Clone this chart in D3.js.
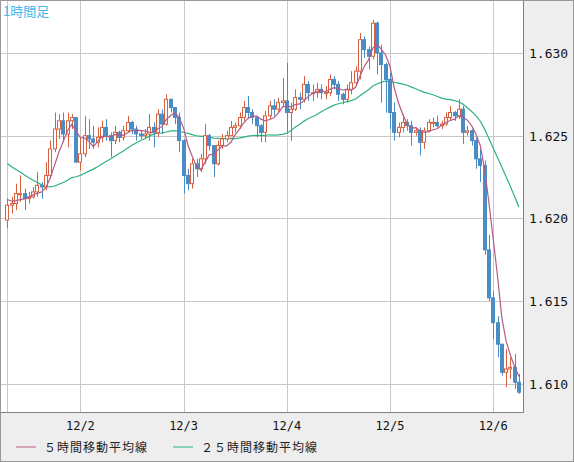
<!DOCTYPE html>
<html><head><meta charset="utf-8">
<script src="https://cdn.jsdelivr.net/npm/d3@7"></script>
<style>body{margin:0;background:#eee;}svg{display:block;}</style>
</head><body><div id="chart"></div>
<script>
// hourly candles, 12/1 07:00 .. 12/6 06:00
var closes = [1.6208,1.6209,1.6215,1.6215,1.6212,1.6213,1.6216,1.6220,1.6219,1.6226,
  1.6242,1.6254,1.6259,1.6251,1.6259,1.6261,1.6234,1.6239,1.6250,1.6248,
  1.6246,1.6249,1.6255,1.6250,1.6247,1.6252,1.6249,1.6253,1.6258,1.6254,
  1.6251,1.6250,1.6251,1.6255,1.6252,1.6263,1.6257,1.6272,1.6267,1.6261,
  1.6247,1.6226,1.6221,1.6233,1.6230,1.6236,1.6250,1.6244,1.6233,1.6244,
  1.6248,1.6250,1.6255,1.6256,1.6261,1.6267,1.6264,1.6261,1.6256,1.6252,
  1.6262,1.6268,1.6266,1.6270,1.6271,1.6264,1.6266,1.6273,1.6272,1.6281,
  1.6276,1.6276,1.6278,1.6276,1.6276,1.6284,1.6281,1.6275,1.6272,1.6278,
  1.6282,1.6289,1.6308,1.6302,1.6298,1.6318,1.6300,1.6293,1.6284,1.6264,
  1.6252,1.6255,1.6258,1.6256,1.6252,1.6253,1.6246,1.6253,1.6258,1.6258,
  1.6256,1.6257,1.6261,1.6264,1.6262,1.6266,1.6252,1.6253,1.6247,1.6236,
  1.6232,1.6181,1.6152,1.6137,1.6124,1.6107,1.6109,1.6110,1.6101,1.6095];
var highs = [1.6212,1.6213,1.6221,1.6226,1.6218,1.6216,1.6219,1.6228,1.6222,1.6234,
  1.6247,1.6264,1.6263,1.6264,1.6264,1.6263,1.6259,1.6249,1.6262,1.6260,
  1.6256,1.6255,1.6259,1.6260,1.6252,1.6256,1.6253,1.6256,1.6262,1.6259,
  1.6256,1.6253,1.6254,1.6263,1.6258,1.6266,1.6266,1.6275,1.6272,1.6265,
  1.6264,1.6248,1.6230,1.6236,1.6236,1.6239,1.6257,1.6251,1.6244,1.6247,
  1.6251,1.6253,1.6259,1.6258,1.6264,1.6271,1.6274,1.6266,1.6262,1.6257,
  1.6265,1.6271,1.6272,1.6273,1.6285,1.6294,1.6270,1.6278,1.6276,1.6286,
  1.6283,1.6281,1.6282,1.6281,1.6280,1.6287,1.6286,1.6283,1.6276,1.6281,
  1.6289,1.6292,1.6312,1.6310,1.6304,1.6320,1.6319,1.6305,1.6294,1.6288,
  1.6270,1.6258,1.6263,1.6260,1.6259,1.6255,1.6255,1.6255,1.6260,1.6261,
  1.6262,1.6259,1.6264,1.6268,1.6265,1.6272,1.6268,1.6256,1.6254,1.6249,
  1.6242,1.6235,1.6190,1.6156,1.6141,1.6124,1.6121,1.6116,1.6118,1.6106];
var lows = [1.6194,1.6203,1.6205,1.6210,1.6205,1.6209,1.6212,1.6213,1.6212,1.6217,
  1.6224,1.6240,1.6248,1.6246,1.6243,1.6254,1.6234,1.6229,1.6237,1.6242,
  1.6242,1.6243,1.6246,1.6247,1.6237,1.6245,1.6246,1.6247,1.6252,1.6251,
  1.6247,1.6248,1.6248,1.6247,1.6243,1.6249,1.6251,1.6256,1.6264,1.6257,
  1.6240,1.6215,1.6217,1.6218,1.6225,1.6228,1.6233,1.6241,1.6225,1.6232,
  1.6242,1.6246,1.6250,1.6252,1.6254,1.6259,1.6260,1.6257,1.6249,1.6246,
  1.6246,1.6260,1.6262,1.6264,1.6268,1.6252,1.6247,1.6265,1.6266,1.6270,
  1.6271,1.6271,1.6273,1.6272,1.6272,1.6274,1.6278,1.6271,1.6269,1.6270,
  1.6275,1.6280,1.6284,1.6297,1.6290,1.6296,1.6287,1.6270,1.6264,1.6254,
  1.6247,1.6249,1.6252,1.6253,1.6244,1.6250,1.6238,1.6242,1.6252,1.6255,
  1.6255,1.6254,1.6256,1.6259,1.6259,1.6260,1.6245,1.6250,1.6244,1.6230,
  1.6222,1.6178,1.6150,1.6127,1.6116,1.6105,1.6098,1.6103,1.6097,1.6094];
var firstOpen = 1.6199;
// closes of the 24 hours before the first candle (only used for the moving averages)
var priorCloses = [1.6258,1.6256,1.6253,1.6257,1.6255,1.6252,1.6256,1.6254,1.6251,1.6248,
  1.6240,1.6232,1.6226,1.6224,1.6222,1.6220,1.6219,1.6218,1.6216,1.6215,
  1.6214,1.6213,1.6212,1.6210];
var dayTicks = [0, 17, 41, 65, 89, 113];
var dayLabels = ["", "12/2", "12/3", "12/4", "12/5", "12/6"];
var priceTicks = [1.610, 1.615, 1.620, 1.625, 1.630];
var legendNames = ["５時間移動平均線", "２５時間移動平均線"];

var W = 574, H = 462, plotR = 523, plotB = 412;
var opens = closes.map((c, i) => i == 0 ? firstOpen : closes[i - 1]);
var all = priorCloses.concat(closes);
function ma(n) {
  return closes.map((c, i) => d3.mean(all.slice(i + priorCloses.length - n + 1, i + priorCloses.length + 1)));
}
var ma5 = ma(5), ma25 = ma(25);

var x = d3.scaleLinear().domain([0, 119]).range([7.3, 519]);
var y = d3.scaleLinear().domain([1.6083, 1.6332]).range([plotB, 0]);

var svg = d3.select("#chart").append("svg").attr("width", W).attr("height", H);
svg.append("rect").attr("width", W).attr("height", H).attr("fill", "#eeeeee");
svg.append("rect").attr("x", 1).attr("y", 1).attr("width", plotR - 1).attr("height", plotB - 1).attr("fill", "#fff");

var g = svg.append("g");
g.selectAll(".vg").data(dayTicks).enter().append("line")
  .attr("x1", d => Math.round(x(d)) + 0.5).attr("x2", d => Math.round(x(d)) + 0.5)
  .attr("y1", 1).attr("y2", plotB).attr("stroke", "#c8c8c8");
g.selectAll(".hg").data(priceTicks).enter().append("line")
  .attr("x1", 1).attr("x2", plotR).attr("y1", d => Math.round(y(d)) + 0.5).attr("y2", d => Math.round(y(d)) + 0.5)
  .attr("stroke", "#c8c8c8");

var line = d3.line().x((d, i) => x(i)).y(d => y(d));
g.append("path").attr("d", line(ma25)).attr("fill", "none").attr("stroke", "#2db37b").attr("stroke-width", 1.2);

var c = g.selectAll(".candle").data(closes).enter().append("g");
c.append("line")
  .attr("x1", (d, i) => Math.round(x(i)) + 0.5).attr("x2", (d, i) => Math.round(x(i)) + 0.5)
  .attr("y1", (d, i) => y(highs[i])).attr("y2", (d, i) => y(lows[i]))
  .attr("stroke", (d, i) => d >= opens[i] ? "#d9603f" : "#4a8cc4").attr("stroke-width", 1);
c.append("rect")
  .attr("x", (d, i) => Math.round(x(i)) - 1.5)
  .attr("width", 3)
  .attr("y", (d, i) => y(Math.max(d, opens[i])))
  .attr("height", (d, i) => Math.max(1, Math.abs(y(d) - y(opens[i]))))
  .attr("fill", (d, i) => d >= opens[i] ? "#fff" : "#4a8cc4")
  .attr("stroke", (d, i) => d >= opens[i] ? "#d9603f" : "#4a8cc4").attr("stroke-width", 1);

g.append("path").attr("d", line(ma5)).attr("fill", "none").attr("stroke", "#b45a86").attr("stroke-width", 1.2);

// frame
svg.append("path").attr("d", "M0.5,0.5H" + (plotR + 0.5) + "V" + (plotB + 0.5) + "H0.5Z")
  .attr("fill", "none").attr("stroke", "#808080");
svg.append("rect").attr("x", 0.5).attr("y", 0.5).attr("width", W - 1).attr("height", H - 1)
  .attr("fill", "none").attr("stroke", "#999");

svg.selectAll(".yl").data(priceTicks).enter().append("text")
  .attr("x", 529).attr("y", d => y(d) + 5)
  .attr("font-family", "DejaVu Sans Mono").attr("font-size", 13).attr("fill", "#111")
  .text(d => d3.format(".3f")(d));
svg.selectAll(".xl").data(dayTicks).enter().append("text")
  .attr("x", d => x(d)).attr("y", 430).attr("text-anchor", "middle")
  .attr("font-family", "DejaVu Sans Mono").attr("font-size", 12).attr("fill", "#111")
  .text((d, i) => dayLabels[i]);

svg.append("text").attr("x", 3).attr("y", 16).attr("font-family", "Noto Sans CJK JP")
  .attr("font-size", 13).attr("fill", "#3cb8ee").text("1時間足");

var lg = svg.selectAll(".lg").data(legendNames).enter().append("g")
  .attr("transform", (d, i) => "translate(" + (16 + i * 157) + ",447)");
lg.append("line").attr("x1", 0).attr("x2", 20).attr("stroke", (d, i) => i ? "#2db37b" : "#b45a86");
lg.append("text").attr("x", 28).attr("y", 5).attr("font-family", "Noto Sans CJK JP")
  .attr("font-size", 12).attr("letter-spacing", 1).attr("fill", "#222").text(d => d);
</script></body></html>
